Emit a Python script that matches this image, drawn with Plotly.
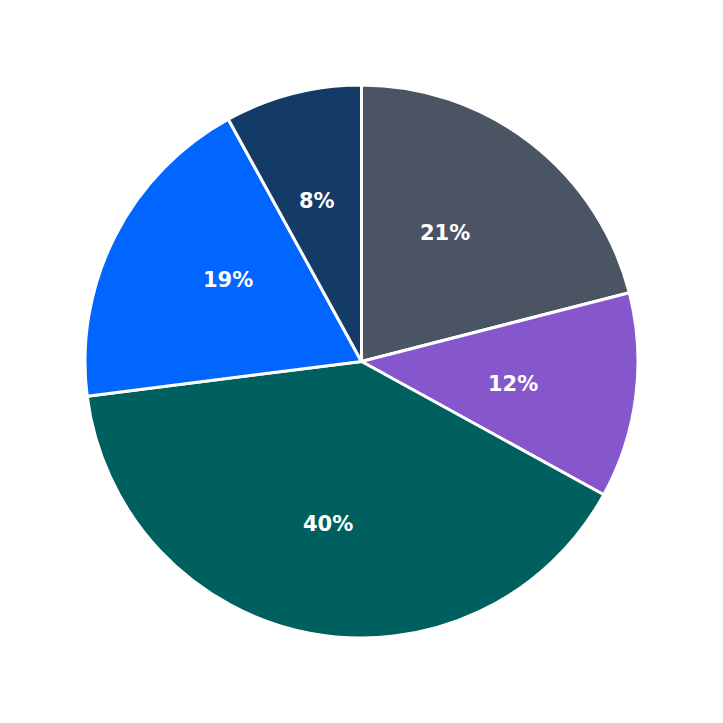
import math
import plotly.graph_objects as go

labels = ["A", "B", "C", "D", "E"]
values = [21, 12, 40, 19, 8]
colors = ["#4a5463", "#8657cc", "#005f5f", "#0066ff", "#143a66"]

fig = go.Figure(go.Pie(
    labels=labels, values=values, sort=False, direction="clockwise", rotation=0,
    marker=dict(colors=colors, line=dict(color="white", width=3)),
    textinfo="none", hoverinfo="label+percent",
))

total = sum(values)
cum = 0
for v in values:
    mid = (cum + v / 2) / total * 2 * math.pi
    cum += v
    fig.add_annotation(
        x=0.5 + 0.325 * math.sin(mid), y=0.5 + 0.325 * math.cos(mid),
        xref="paper", yref="paper", showarrow=False,
        text=f"{round(v / total * 100)}%",
        font=dict(family="DejaVu Sans", size=21, color="white", weight="bold"),
    )

fig.update_layout(
    width=723, height=723, showlegend=False,
    margin=dict(l=77, r=93, t=77, b=93),
    paper_bgcolor="white",
)
fig.write_html("out.html")
